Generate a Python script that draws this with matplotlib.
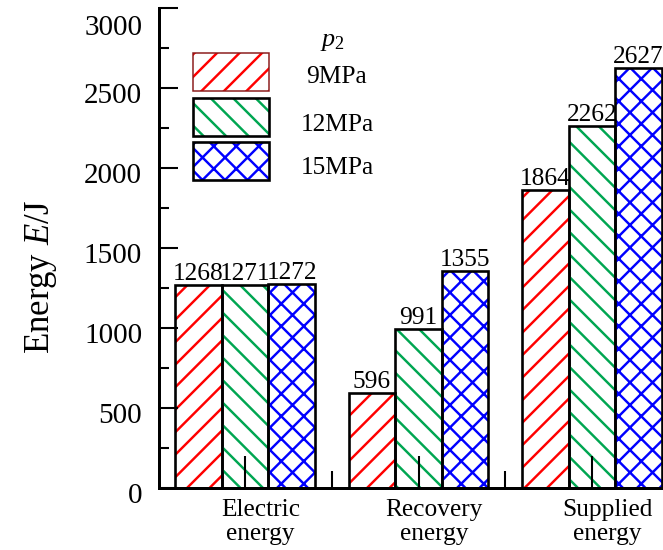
import numpy as np
import matplotlib
matplotlib.use("Agg")
import matplotlib.pyplot as plt
from matplotlib.patches import Rectangle
from matplotlib.transforms import ScaledTranslation

# data
categories = ["Electric\nenergy", "Recovery\nenergy", "Supplied\nenergy"]
pressures = ["9MPa", "12MPa", "15MPa"]
e_9mpa = [1268, 596, 1864]
e_12mpa = [1271, 991, 2262]
e_15mpa = [1272, 1355, 2627]
series = [e_9mpa, e_12mpa, e_15mpa]

hatch_colors = ["#ff0000", "#00a651", "#0000ff"]
hatches = ["//", "\\\\", "xx"]

plt.rcParams['font.family'] = ['Liberation Serif', 'DejaVu Serif']
plt.rcParams['mathtext.fontset'] = 'custom'
plt.rcParams['mathtext.rm'] = 'Liberation Serif'
plt.rcParams['mathtext.it'] = 'Liberation Serif:italic'
plt.rcParams['hatch.linewidth'] = 1.3

# dpi chosen so the hatch spacing matches the reference
DPI = 135
fig = plt.figure(figsize=(663 / DPI, 550 / DPI), dpi=DPI)
ax = fig.add_axes([159 / 663, 62 / 550, 504 / 663, 480 / 550])

x = np.arange(len(categories))
w = 0.268
for i, vals in enumerate(series):
    pos = x + (i - 1) * w
    ax.bar(pos, vals, w, color='none', edgecolor=hatch_colors[i],
           hatch=hatches[i], linewidth=0)
    ax.bar(pos, vals, w, color='none', edgecolor='black', linewidth=1.4)
    for p, v in zip(pos, vals):
        ax.text(p, v, str(v), ha='center', va='bottom', fontsize=13.5)

# axes styling
ax.set_xlim(-0.496, 2.409)
ax.set_ylim(0, 3000)
ax.spines['top'].set_visible(False)
ax.spines['right'].set_visible(False)
for s in ['left', 'bottom']:
    ax.spines[s].set_linewidth(1.6)

ax.set_yticks(np.arange(0, 3001, 500))
ax.set_yticks(np.arange(0, 3001, 250), minor=True)
ax.set_xticks(x)
ax.set_xticklabels([])
ax.set_xticks([0.5, 1.5], minor=True)

ax.tick_params(axis='y', which='major', direction='in', length=10, width=1.1,
               pad=9, labelsize=15.5)
ax.tick_params(axis='y', which='minor', direction='in', length=5.3, width=1.1)
ax.tick_params(axis='x', which='major', direction='in', length=17, width=1.1)
ax.tick_params(axis='x', which='minor', direction='in', length=9, width=1.1)

down = ScaledTranslation(0, -5 / DPI, fig.dpi_scale_trans)
ylabels = ax.get_yticklabels()
for lab in ylabels:
    lab.set_transform(lab.get_transform() + down)
ylabels[-1].set_transform(ylabels[-1].get_transform()
                          + ScaledTranslation(0, -12 / DPI, fig.dpi_scale_trans))

for i, c in enumerate(categories):
    ax.annotate(c, xy=(i + 0.09, 0), xycoords=('data', 'axes fraction'),
                xytext=(0, -6), textcoords='offset points',
                ha='center', va='top', fontsize=13.5, linespacing=1.1)

ax.set_ylabel(r'Energy $E$/J', fontsize=18.5)
ax.yaxis.set_label_coords(-0.198, 0.44)

# legend drawn by hand: hatched boxes with centred labels
box_bottoms = [0.827, 0.7333, 0.6417]
text_ys = [0.856, 0.756, 0.667]
box_edges = ['#8b1a1a', 'black', 'black']
box_lw = [0.8, 1.4, 1.4]
for i in range(3):
    ax.add_patch(Rectangle((0.0675, box_bottoms[i]), 0.1508, 0.0792,
                           transform=ax.transAxes, facecolor='none',
                           edgecolor=hatch_colors[i], hatch=hatches[i],
                           linewidth=0, clip_on=False))
    ax.add_patch(Rectangle((0.0675, box_bottoms[i]), 0.1508, 0.0792,
                           transform=ax.transAxes, facecolor='none',
                           edgecolor=box_edges[i], linewidth=box_lw[i],
                           clip_on=False))
    ax.text(0.353, text_ys[i], pressures[i], transform=ax.transAxes,
            ha='center', va='center', fontsize=13.5)
ax.text(0.345, 0.929, r'$p\mathregular{_2}$', transform=ax.transAxes,
        ha='center', va='center', fontsize=14)

fig.savefig("out.png", dpi=DPI)
